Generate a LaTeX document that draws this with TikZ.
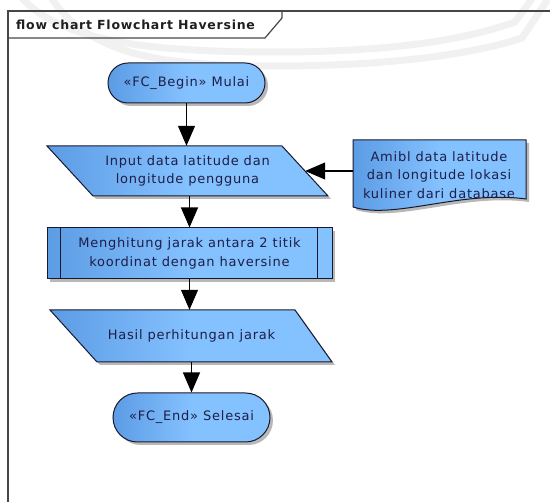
\documentclass[tikz,border=0pt]{standalone}
\usepackage{fontspec}
\setmainfont{DejaVu Sans}[LetterSpace=6]
\usetikzlibrary{arrows.meta,shadows,backgrounds,calc,shapes.misc}

\definecolor{fcL}{RGB}{92,156,228}
\definecolor{fcR}{RGB}{132,193,255}
\definecolor{fcline}{RGB}{25,25,45}
\definecolor{fctext}{RGB}{30,30,70}
\definecolor{framecol}{RGB}{70,70,70}

\newcommand{\fcbody}{\fontsize{13}{18.5}\selectfont}
\newcommand{\fctitle}{\fontsize{12.5}{14}\selectfont\bfseries}

\tikzset{
  fcshape/.style={draw=fcline, line width=1pt, left color=fcL, right color=fcR, middle color=fcR,
    drop shadow={shadow xshift=3pt, shadow yshift=-3pt, fill=black, opacity=0.28}},
  terminal/.style={fcshape, rounded rectangle, rounded rectangle arc length=180},
  fctxt/.style={text=fctext, align=center, font=\fcbody, inner sep=0pt},
  flowarrow/.style={-{Triangle[length=20pt,width=17pt]}, line width=1.1pt, black},
  watermark/.style={line width=7pt, draw=gray!11},
  framestyle/.style={draw=framecol, line width=1.2pt}
}

\begin{document}
\begin{tikzpicture}[x=1pt,y=-1pt]
\useasboundingbox (0,0) rectangle (550,502);

% faint background watermark and the diagram frame
\begin{scope}[on background layer]
  \draw[watermark] (20,-4) .. controls (60,42) and (150,52) .. (275,52)
                   .. controls (400,52) and (470,38) .. (515,22) -- (534,-4);
  \draw[watermark] (50,-4) .. controls (90,58) and (170,66) .. (275,66)
                   .. controls (400,66) and (480,52) .. (522,38) -- (550,-4);
  \draw[framestyle] (551,11) -- (8,11) -- (8,503);
  \draw[framestyle] (8,38) -- (265,38) -- (282,18) -- (282,11);
\end{scope}

\node[anchor=base west, font=\fctitle, text=black!88, inner sep=0pt] (title) at (16,30)
  {flow chart Flowchart Haversine};

% flowchart nodes
\node[terminal, fctxt, minimum width=157pt, minimum height=40pt]
  (start) at (186.5,83) {«FC\_Begin» Mulai};

\node[fctxt, minimum width=235pt, minimum height=50pt] (input) at (187.5,171)
  {Input data latitude dan\\longitude pengguna};

\node[fcshape, fctxt, minimum width=285pt, minimum height=51pt] (proc) at (189.5,253.5)
  {Menghitung jarak antara 2 titik\\koordinat dengan haversine};
\draw[draw=fcline, line width=1pt] ([xshift=14pt]proc.north west) -- ([xshift=14pt]proc.south west);
\draw[draw=fcline, line width=1pt] ([xshift=-15pt]proc.north east) -- ([xshift=-15pt]proc.south east);

\node[fctxt, minimum width=240pt, minimum height=52pt] (hasil) at (191.5,336)
  {Hasil perhitungan jarak};

\node[terminal, fctxt, minimum width=157pt, minimum height=49pt]
  (end) at (191.5,417.5) {«FC\_End» Selesai};

\node[fctxt, minimum width=172pt, minimum height=68pt] (doc) at (439,175)
  {Amibl data latitude\\dan longitude lokasi\\kuliner dari database};

% outlines of the data and document shapes, under their texts
\begin{scope}[on background layer]
  \path[fcshape] (47,146) -- (282,146) -- (328,196) -- (93,196) -- cycle;
  \path[fcshape] (50,310) -- (295,310) -- (332,362) -- (97,362) -- cycle;
  \path[fcshape] (353,140) -- (526,140) -- (526,199)
     .. controls (460,190) and (395,220) .. (353,207) -- cycle;
\end{scope}

% connectors
\draw[flowarrow] (start.south) -- (start.south |- input.north);
\draw[flowarrow] (proc.north |- input.south) -- (proc.north);
\draw[flowarrow] (proc.south) -- (proc.south |- hasil.north);
\draw[flowarrow] (end.north |- hasil.south) -- (end.north);
\draw[flowarrow] (doc.west |- input.east) -- (input.east);
\end{tikzpicture}
\end{document}
